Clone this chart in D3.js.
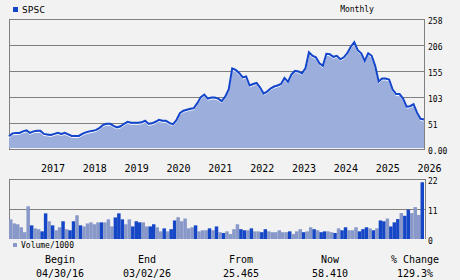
<!DOCTYPE html>
<html>
<head>
<meta charset="utf-8">
<script src="https://cdn.jsdelivr.net/npm/d3@7"></script>
<style>
  body { margin: 0; background: #f2f2f2; }
  text { font-family: "DejaVu Sans Mono", monospace; fill: #000; }
</style>
</head>
<body>
<div id="chart"></div>
<script>
// data
const symbol = "SPSC";
const period = "Monthly";
const firstMonth = new Date(2016, 3, 1);   // April 2016

// monthly closes, Apr 2016 .. Mar 2026 (last one partial)
const closes = [
  25.465, 31, 32, 32, 35, 37, 32, 35, 36, 36,
  30, 29, 28, 30, 32, 30, 32, 29, 26, 26,
  26, 30, 33, 35, 36, 38, 42, 48, 50, 50,
  46, 43, 45, 50, 54, 52, 52, 52, 53, 56,
  50, 51, 54, 58, 56, 56, 52, 49, 57, 71,
  76, 78, 80, 81, 91, 103, 108, 100, 102, 102,
  100, 95, 104, 118, 160, 157, 151, 142, 144, 126,
  129, 131, 122, 110, 114, 120, 124, 126, 129, 141,
  133, 148, 155, 154, 150, 160, 192, 185, 182, 170,
  165, 189, 188, 183, 185, 178, 182, 190, 203, 212,
  196, 190, 175, 190, 185, 165, 134, 140, 140, 138,
  118, 109, 109, 100, 84, 85, 89, 72, 60, 58.41
];

// volume / 1000 per month
const volumes = [
  7.2, 5.7, 5.4, 4.3, 2.5, 12.0, 5.0, 3.9, 3.6, 2.8,
  9.4, 6.5, 5.0, 3.2, 4.3, 6.5, 3.6, 3.2, 6.5, 8.7,
  5.0, 4.6, 5.7, 6.1, 5.4, 6.1, 6.1, 6.1, 7.2, 4.6,
  7.9, 9.4, 7.2, 5.4, 7.2, 4.6, 6.5, 6.1, 6.1, 4.6,
  4.6, 5.4, 4.3, 2.8, 3.9, 2.8, 3.6, 6.8, 8.0, 6.5,
  7.5, 3.9, 4.3, 5.0, 2.8, 3.2, 3.2, 3.9, 3.2, 4.6,
  2.5, 2.2, 2.8, 1.8, 3.6, 5.4, 3.6, 3.2, 3.2, 3.9,
  2.8, 2.8, 2.5, 3.6, 2.8, 2.5, 2.5, 3.2, 2.5, 2.5,
  2.8, 1.8, 2.8, 3.6, 2.5, 2.8, 4.3, 3.6, 3.2, 2.5,
  2.8, 2.8, 2.5, 2.2, 3.9, 3.2, 4.3, 3.2, 3.2, 4.3,
  2.8, 3.6, 4.3, 3.9, 3.2, 3.9, 6.8, 6.5, 7.5, 4.6,
  6.1, 7.3, 9.5, 8.5, 10.8, 9.5, 11.7, 8.8, 20.8
];
// D = dark bar, L = light bar
const volShade = (
  "LLLLLLDLLDDLDLLDLDDLDLLLLLDLLLDDDLLDDDLL" +
  "DDLLDLDDLLLLLDLLLDLDLDLLLLDDLDLLDDLLLLLL" +
  "DLLLDLLDLDDLLDLDDLLLDDDLDLDDLDDDLDDLLLD"
).split("");

const priceTicks = [0, 51.6, 103.2, 154.8, 206.4, 258];
const priceTickLabels = ["0.00", "51", "103", "155", "206", "258"];
const volTicks = [0, 11, 22];

const summaryCols = [
  { head: "Begin", value: "04/30/16" },
  { head: "End", value: "03/02/26" },
  { head: "From", value: "25.465" },
  { head: "Now", value: "58.410" },
  { head: "% Change", value: "129.3%" }
];
const summaryX = [60, 147, 241, 330, 415];

// layout
const width = 460, height = 280;
const left = 9, right = 424;
const priceTop = 19, priceBottom = 149;
const volTop = 179, volBottom = 239;

const colors = {
  bg: "#f2f2f2",
  grid: "#808080",
  area: "#9cafdc",
  line: "#1446cc",
  dark: "#1446c6",
  light: "#8898c8"
};

const months = closes.map((d, i) => d3.timeMonth.offset(firstMonth, i));
const yearStarts = months
    .map((m, i) => ({ m, i }))
    .filter(d => d.m.getMonth() === 0);

const svg = d3.select("#chart").append("svg")
    .attr("width", width)
    .attr("height", height)
    .style("display", "block");

svg.append("rect")
    .attr("width", width)
    .attr("height", height)
    .attr("fill", colors.bg);

// scales
const x = d3.scaleLinear()
    .domain([0, closes.length - 1])
    .range([left, right]);

const y = d3.scaleLinear()
    .domain([0, 258])
    .range([priceBottom, priceTop]);

const yVol = d3.scaleLinear()
    .domain([0, 22])
    .range([volBottom, volTop]);

// header
svg.append("rect")
    .attr("x", 13).attr("y", 7)
    .attr("width", 5).attr("height", 5)
    .attr("fill", colors.dark);

svg.append("text")
    .attr("x", 22).attr("y", 13)
    .style("font-size", "9.5px")
    .text(symbol);

svg.append("text")
    .attr("x", 357).attr("y", 12)
    .attr("text-anchor", "middle")
    .style("font-size", "8px")
    .text(period);

// price panel
// -----------------------------------------------------

// gridlines + frame (under the area)
svg.append("g")
  .selectAll("line")
  .data(priceTicks)
  .join("line")
    .attr("x1", left).attr("x2", right)
    .attr("y1", d => Math.round(y(d)) + 0.5)
    .attr("y2", d => Math.round(y(d)) + 0.5)
    .attr("stroke", colors.grid);

svg.append("g")
  .selectAll("line")
  .data([left, right])
  .join("line")
    .attr("x1", d => d + 0.5).attr("x2", d => d + 0.5)
    .attr("y1", priceTop).attr("y2", priceBottom + 1)
    .attr("stroke", colors.grid);

const area = d3.area()
    .x((d, i) => x(i))
    .y0(y(0) - 1)
    .y1(d => y(d));

const line = d3.line()
    .x((d, i) => x(i))
    .y(d => y(d));

svg.append("path")
    .datum(closes)
    .attr("d", area)
    .attr("fill", colors.area);

svg.append("path")
    .datum(closes)
    .attr("d", line)
    .attr("transform", "translate(0,1.5)")
    .attr("fill", "none")
    .attr("stroke", "#ffffff")
    .attr("stroke-width", 1);

svg.append("path")
    .datum(closes)
    .attr("d", line)
    .attr("fill", "none")
    .attr("stroke", colors.line)
    .attr("stroke-width", 2);

const yAxis = d3.axisRight(y)
    .tickValues(priceTicks)
    .tickFormat((d, i) => priceTickLabels[i])
    .tickSize(0)
    .tickPadding(0);

svg.append("g")
    .attr("transform", `translate(${right + 4},2)`)
    .call(yAxis)
    .call(g => g.select(".domain").remove())
    .selectAll("text")
      .style("font-size", "8px")
      .style("font-family", "DejaVu Sans Mono");

// year labels, left edge at January of each year
const xAxis = d3.axisBottom(x)
    .tickValues(yearStarts.map(d => d.i))
    .tickFormat((d, i) => d3.timeFormat("%Y")(yearStarts[i].m))
    .tickSize(0)
    .tickPadding(0);

svg.append("g")
    .attr("transform", `translate(0,${priceBottom + 16})`)
    .call(xAxis)
    .call(g => g.select(".domain").remove())
    .selectAll("text")
      .attr("text-anchor", "start")
      .style("font-size", "10px")
      .style("font-family", "DejaVu Sans Mono");

// volume panel
// -----------------------------------------------------

svg.append("g")
  .selectAll("line")
  .data([11, 22])
  .join("line")
    .attr("x1", left).attr("x2", right + 1)
    .attr("y1", d => Math.round(yVol(d)) + 0.5)
    .attr("y2", d => Math.round(yVol(d)) + 0.5)
    .attr("stroke", colors.grid);

svg.append("g")
  .selectAll("line")
  .data([left, right + 1])
  .join("line")
    .attr("x1", d => d + 0.5).attr("x2", d => d + 0.5)
    .attr("y1", volTop).attr("y2", volBottom)
    .attr("stroke", colors.grid);

svg.append("g")
  .selectAll("rect")
  .data(volumes)
  .join("rect")
    .attr("x", (d, i) => x(i))
    .attr("width", (d, i) => x(i + 1) - x(i))
    .attr("y", d => yVol(d))
    .attr("height", d => yVol(0) - yVol(d))
    .attr("fill", (d, i) => volShade[i] === "D" ? colors.dark : colors.light);

const volAxis = d3.axisRight(yVol)
    .tickValues(volTicks)
    .tickSize(0)
    .tickPadding(0);

svg.append("g")
    .attr("transform", `translate(${right + 4},2)`)
    .call(volAxis)
    .call(g => g.select(".domain").remove())
    .selectAll("text")
      .style("font-size", "8px")
      .style("font-family", "DejaVu Sans Mono");

// volume legend
svg.append("rect")
    .attr("x", 13).attr("y", 243)
    .attr("width", 4).attr("height", 4)
    .attr("fill", colors.light);

svg.append("text")
    .attr("x", 21).attr("y", 248)
    .style("font-size", "8px")
    .text("Volume/1000");

// summary row
// -----------------------------------------------------

const cols = svg.append("g")
  .selectAll("g")
  .data(summaryCols)
  .join("g")
    .attr("transform", (d, i) => `translate(${summaryX[i]},0)`);

cols.append("text")
    .attr("y", 263)
    .attr("text-anchor", "middle")
    .style("font-size", "10px")
    .text(d => d.head);

cols.append("text")
    .attr("y", 277)
    .attr("text-anchor", "middle")
    .style("font-size", "10px")
    .text(d => d.value);
</script>
</body>
</html>
